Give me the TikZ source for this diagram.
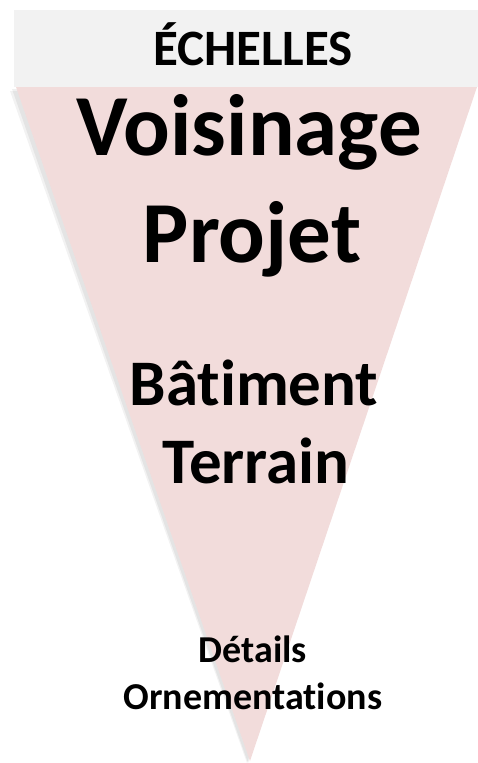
\documentclass[tikz,border=0pt]{standalone}
\usepackage{fontspec}
\setmainfont{Carlito}[Ligatures={NoCommon,NoContextual}]
\definecolor{bandgrey}{HTML}{F2F2F2}
\definecolor{conepink}{HTML}{F2DCDB}

\begin{document}
\begin{tikzpicture}[x=1pt,y=-1pt]
    \tikzstyle{label}=[anchor=base,inner sep=0pt,font=\bfseries]
    \tikzstyle{big}=[label,font=\fontsize{87}{87}\selectfont\bfseries]
    \tikzstyle{mid}=[label,font=\fontsize{65}{65}\selectfont\bfseries]
    \tikzstyle{small}=[label,font=\fontsize{38}{38}\selectfont\bfseries]
    \useasboundingbox (0,0) rectangle (478,763);
    % bande du titre
    \fill[bandgrey] (14,10) rectangle (478,87);
    % entonnoir des echelles
    \fill[black,opacity=.06] (12,89) -- (475,89) -- (248,763) -- cycle;
    \fill[black,opacity=.05] (10,91) -- (473,91) -- (247,763) -- cycle;
    \fill[conepink] (16,87) -- (477,87) -- (250,761) -- cycle;
    \node[label,font=\fontsize{51}{51}\selectfont\bfseries] (echelles) at (253,65) {ÉCHELLES};
    \node[big] (voisinage) at (249,155) {Voisinage};
    \node[big] (projet) at (252,262) {Projet};
    \node[mid] (batiment) at (254,405) {Bâtiment};
    \node[mid] (terrain) at (256,483) {Terrain};
    \node[small] (details) at (253,662) {Détails};
    \node[small] (ornements) at (253,709) {Ornementations};
\end{tikzpicture}
\end{document}
